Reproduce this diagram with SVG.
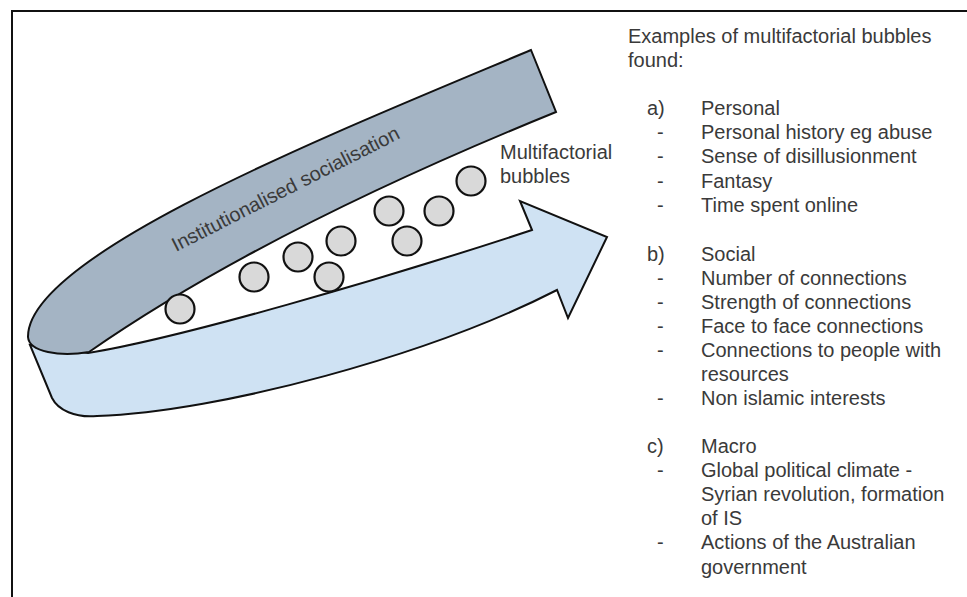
<svg xmlns="http://www.w3.org/2000/svg" width="967" height="597" viewBox="0 0 967 597">
<style>
.band{stroke:#111;stroke-width:2;stroke-linejoin:miter}
.bubble{fill:#d9d9d9;stroke:#111;stroke-width:2.2}
.t{font-family:"Liberation Sans",Arial,sans-serif;font-size:20px;fill:#3a3a3a}
</style>
<rect width="967" height="597" fill="#fff"/>
<path d="M12,597 V11 H967" fill="none" stroke="#111" stroke-width="2"/>
<g id="arrow-band">
<path class="band" fill="#cfe2f3" d="M88,353 C180,338 380,280 532,230 L520,201 L607,237 L568,318 L557,290 C430,355 220,412 97,416 C75,418 58,410 52,398 L30,345 Z"/>
</g>
<g id="socialisation-band">
<path class="band" fill="#a4b4c4" d="M531,50 L556,112 C450,155 250,240 89,352 C60,357 29,352 28,337 C27,255 331,134 531,50 Z"/>
<text class="t" transform="translate(176,252) rotate(-26.9)">Institutionalised socialisation</text>
</g>
<g id="bubbles">
<circle class="bubble" cx="180" cy="309" r="14.5"/>
<circle class="bubble" cx="254" cy="277" r="14.5"/>
<circle class="bubble" cx="298" cy="257" r="14.5"/>
<circle class="bubble" cx="341" cy="241" r="14.5"/>
<circle class="bubble" cx="329" cy="277" r="14.5"/>
<circle class="bubble" cx="389" cy="211" r="14.5"/>
<circle class="bubble" cx="407" cy="241" r="14.5"/>
<circle class="bubble" cx="439" cy="211" r="14.5"/>
<circle class="bubble" cx="471" cy="181" r="14.5"/>
<text class="t" x="500" y="159">Multifactorial</text>
<text class="t" x="500" y="183">bubbles</text>
</g>
<g id="connectors"></g>
<g id="examples">
<text class="t" x="628" y="43">Examples of multifactorial bubbles</text>
<text class="t" x="628" y="67">found:</text>
<text class="t" x="647" y="115">a)</text><text class="t" x="701" y="115">Personal</text>
<text class="t" x="657" y="139">-</text><text class="t" x="701" y="139">Personal history eg abuse</text>
<text class="t" x="657" y="163">-</text><text class="t" x="701" y="163">Sense of disillusionment</text>
<text class="t" x="657" y="188">-</text><text class="t" x="701" y="188">Fantasy</text>
<text class="t" x="657" y="212">-</text><text class="t" x="701" y="212">Time spent online</text>
<text class="t" x="647" y="261">b)</text><text class="t" x="701" y="261">Social</text>
<text class="t" x="657" y="285">-</text><text class="t" x="701" y="285">Number of connections</text>
<text class="t" x="657" y="309">-</text><text class="t" x="701" y="309">Strength of connections</text>
<text class="t" x="657" y="333">-</text><text class="t" x="701" y="333">Face to face connections</text>
<text class="t" x="657" y="357">-</text><text class="t" x="701" y="357">Connections to people with</text>
<text class="t" x="701" y="381">resources</text>
<text class="t" x="657" y="405">-</text><text class="t" x="701" y="405">Non islamic interests</text>
<text class="t" x="647" y="453">c)</text><text class="t" x="701" y="453">Macro</text>
<text class="t" x="657" y="477">-</text><text class="t" x="701" y="477">Global political climate -</text>
<text class="t" x="701" y="501">Syrian revolution, formation</text>
<text class="t" x="701" y="525">of IS</text>
<text class="t" x="657" y="549">-</text><text class="t" x="701" y="549">Actions of the Australian</text>
<text class="t" x="701" y="574">government</text>
</g>
</svg>
